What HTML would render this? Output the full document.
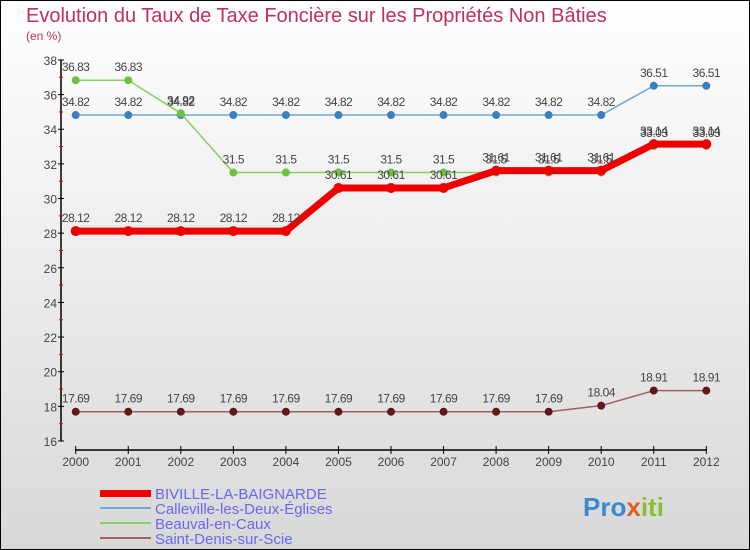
<!DOCTYPE html>
<html><head><meta charset="utf-8">
<style>
body{margin:0;width:750px;height:550px;overflow:hidden;font-family:"Liberation Sans",sans-serif;}
#wrap{position:absolute;left:0;top:0;width:748px;height:548px;border:1px solid #000;background:linear-gradient(#ffffff,#d8d8d8);}
</style></head><body>
<div id="wrap">
<svg id="chart" width="750" height="550" style="position:absolute;left:-1px;top:-1px">
<text x="26" y="22" font-size="20" fill="#c0305a">Evolution du Taux de Taxe Foncière sur les Propriétés Non Bâties</text>
<text x="26" y="40" font-size="12" fill="#c0305a">(en %)</text>
<g id="axes"></g><g id="series"></g>
<g>
<rect x="100" y="490" width="51" height="7" fill="#e00"/>
<text x="155" y="499" font-size="15" fill="#6868f0">BIVILLE-LA-BAIGNARDE</text>
<line x1="100" x2="151" y1="508" y2="508" stroke="#6fa8d0" stroke-width="2"/>
<text x="155" y="514" font-size="15" fill="#6868f0">Calleville-les-Deux-Églises</text>
<line x1="100" x2="151" y1="523" y2="523" stroke="#88d060" stroke-width="2"/>
<text x="155" y="529" font-size="15" fill="#6868f0">Beauval-en-Caux</text>
<line x1="100" x2="151" y1="538" y2="538" stroke="#a06060" stroke-width="2"/>
<text x="155" y="544" font-size="15" fill="#6868f0">Saint-Denis-sur-Scie</text>
</g>
<text x="583" y="516" font-size="26" font-weight="bold" fill="#e8a020"><tspan fill="#3a8ad0">Pro</tspan><tspan fill="#e06020">x</tspan><tspan fill="#8ac030">iti</tspan></text>
</svg>
</div>
<script>
const years=[2000,2001,2002,2003,2004,2005,2006,2007,2008,2009,2010,2011,2012];
const yTicks=[16,18,20,22,24,26,28,30,32,34,36,38];
const biville=[28.12,28.12,28.12,28.12,28.12,30.61,30.61,30.61,31.61,31.61,31.61,33.14,33.14];
const calleville=[34.82,34.82,34.82,34.82,34.82,34.82,34.82,34.82,34.82,34.82,34.82,36.51,36.51];
const beauval=[36.83,36.83,34.92,31.5,31.5,31.5,31.5,31.5,31.5,31.5,31.5,33.03,33.03];
const saintDenis=[17.69,17.69,17.69,17.69,17.69,17.69,17.69,17.69,17.69,17.69,18.04,18.91,18.91];
const NS='http://www.w3.org/2000/svg';
function xs(i){return 75.7+i*52.55;}
function ys(v){return 441-(v-16)*17.32;}
function mk(tag,attrs,parent){const e=document.createElementNS(NS,tag);for(const k in attrs)e.setAttribute(k,attrs[k]);parent.appendChild(e);return e;}
const ax=document.getElementById('axes');
const yl=mk('line',{x1:61,x2:61,y1:60,y2:441,stroke:'#000','stroke-width':1.5},ax);


yTicks.forEach((t,i)=>{
  mk('line',{x1:58,x2:64,y1:ys(t),y2:ys(t),stroke:'#000'},ax);
  if(i<yTicks.length-1)mk('line',{x1:59,x2:63,y1:ys(t+1),y2:ys(t+1),stroke:'#e00'},ax);
  const tx=mk('text',{x:57,y:ys(t)+5,'font-size':12,fill:'#444','text-anchor':'end'},ax);
  tx.textContent=t;
  
  
});
const xl=mk('line',{x1:75,x2:707,y1:450,y2:450,stroke:'#000','stroke-width':1.5},ax);


years.forEach((y,i)=>{
  mk('line',{x1:xs(i),x2:xs(i),y1:446,y2:454,stroke:'#000'},ax);
  const tx=mk('text',{x:xs(i),y:466,'font-size':12,fill:'#444','text-anchor':'middle'},ax);
  tx.textContent=y;
  
  
});
const sg=document.getElementById('series');
function draw(vals,name,color,dot,w,r){
  const g=mk('g',{},sg);
  
  
  const pl=mk('polyline',{points:vals.map((v,i)=>xs(i)+','+ys(v)).join(' '),fill:'none',stroke:color,'stroke-width':w,'stroke-linejoin':'round'},g);
  
  
  vals.forEach((v,i)=>{
    const c=mk('circle',{cx:xs(i),cy:ys(v),r:r,fill:dot},g);
    
    
    const t=mk('text',{x:xs(i),y:ys(v)-9,'font-size':12,fill:'#444','text-anchor':'middle','letter-spacing':'-0.5'},g);
    t.textContent=v;
    
    
  });
}
draw(calleville,'calleville','#6fa8d0','#3a80c0',1.5,4);
draw(beauval,'beauval','#88d060','#70c040',1.5,4);
draw(saintDenis,'saint-denis','#a06060','#601818',1.5,4);
draw(biville,'biville','#e00','#e00',7,5);
</script>
</body></html>
